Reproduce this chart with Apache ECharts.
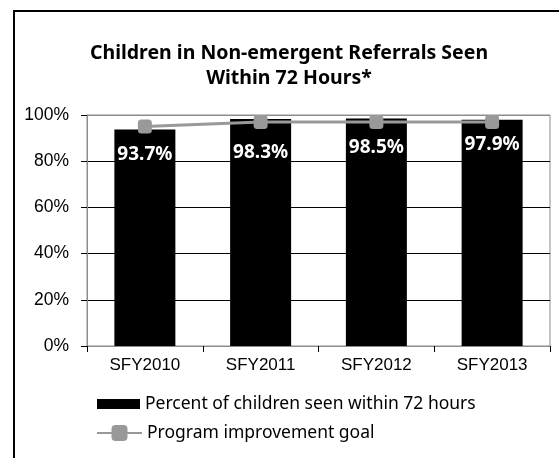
<!DOCTYPE html>
<html><head><meta charset="utf-8">
<script src="https://cdn.jsdelivr.net/npm/echarts@6/dist/echarts.min.js"></script>
<style>html,body{margin:0;padding:0;background:#fff}#c{width:559px;height:458px}</style>
</head><body><div id="c"></div>
<script>
const categories = ['SFY2010', 'SFY2011', 'SFY2012', 'SFY2013'];
const percentSeen = [93.7, 98.3, 98.5, 97.9];
const improvementGoal = [95, 97, 97, 97];
const titleText = 'Children in Non-emergent Referrals Seen\nWithin 72 Hours*';
const seriesNames = ['Percent of children seen within 72 hours', 'Program improvement goal'];

// label placement (style only)
const labelDistances = [16, 24, 20, 15];

const chart = echarts.init(document.getElementById('c'), null, {renderer: 'canvas'});
chart.setOption({
  animation: false,
  backgroundColor: '#fff',
  title: {
    text: titleText, left: 289, top: 41, textAlign: 'center', padding: 0,
    textStyle: {fontFamily: 'Noto Sans', fontWeight: 'bold', fontSize: 19.5, color: '#000', lineHeight: 25}
  },
  graphic: [{
    type: 'rect', shape: {x: 14, y: 11, width: 600, height: 500},
    style: {fill: 'none', stroke: '#000', lineWidth: 2}, silent: true
  }],
  grid: {left: 87, right: 9, top: 115, bottom: 112, show: true, borderColor: '#8c8c8c', borderWidth: 1, backgroundColor: 'transparent'},
  legend: [{
    orient: 'vertical', left: 97, top: 395, padding: 0, itemWidth: 43, itemHeight: 10,
    textStyle: {fontFamily: 'Noto Sans', fontSize: 17.5, color: '#000'},
    data: [{name: seriesNames[0], icon: 'rect'}]
  }, {
    orient: 'vertical', left: 96, top: 424, padding: 0, itemWidth: 45, itemHeight: 20,
    textStyle: {fontFamily: 'Noto Sans', fontSize: 17.5, color: '#000'},
    data: [{name: seriesNames[1]}]
  }],
  xAxis: {
    type: 'category', data: categories,
    axisLine: {lineStyle: {color: '#8c8c8c'}},
    axisTick: {show: true, length: 6, lineStyle: {color: '#000'}},
    axisLabel: {fontFamily: 'Liberation Sans', fontSize: 17, color: '#000', margin: 11}
  },
  yAxis: {
    type: 'value', min: 0, max: 100, interval: 20,
    axisLine: {show: true, lineStyle: {color: '#8c8c8c'}},
    axisTick: {show: true, length: 6, lineStyle: {color: '#000'}},
    axisLabel: {fontFamily: 'Liberation Sans', fontSize: 17.5, color: '#000', margin: 18, formatter: v => v + '%'},
    splitLine: {lineStyle: {color: ['#000', '#000', '#000', '#000', '#000', '#8c8c8c'], width: 1}}
  },
  series: [{
    name: seriesNames[0], type: 'bar', barWidth: 61,
    data: percentSeen.map((v, i) => ({value: v, label: {distance: labelDistances[i]}})),
    itemStyle: {color: '#000'},
    label: {
      show: true, position: 'insideTop', color: '#fff',
      fontFamily: 'Noto Sans', fontWeight: 'bold', fontSize: 19,
      formatter: p => p.value.toFixed(1) + '%'
    }
  }, {
    name: seriesNames[1], type: 'line', data: improvementGoal,
    symbol: 'roundRect', symbolSize: 14,
    lineStyle: {color: '#999', width: 3},
    itemStyle: {color: '#999'}
  }]
});
</script></body></html>
